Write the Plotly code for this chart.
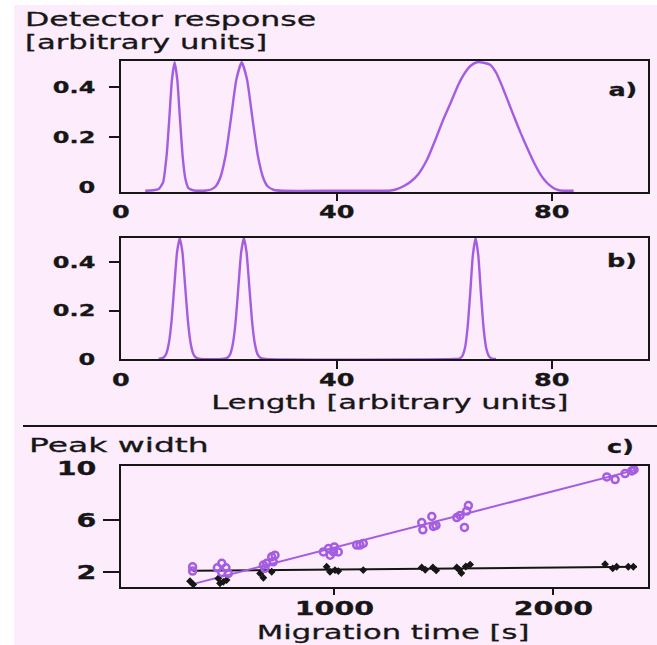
import plotly.graph_objects as go

W, H = 657, 645

# a) detector response along the column, broad peaks
a_length = [4.5, 6.0, 7.0, 7.8, 8.5, 9.0, 9.45, 9.95, 10.45, 10.9, 11.45, 11.95, 12.5, 13.2, 14.0,
            14.8, 15.8, 16.8, 17.6, 18.4, 19.4, 20.4, 21.4, 22.4, 23.4, 24.4, 25.4, 26.4, 27.2, 28.4,
            30.0, 40.0, 48.0, 49.7, 51.0, 52.5, 53.8, 55.2, 56.8, 58.3, 59.8, 61.4, 62.6, 63.8, 65.0,
            66.1, 67.3, 68.5, 69.7, 70.8, 71.8, 72.7, 74.2, 75.6, 76.7, 77.8, 79.0, 80.1, 81.1, 82.1, 84.0]
a_response = [-0.015, -0.013, -0.008, 0.018, 0.134, 0.287, 0.429, 0.5, 0.429, 0.287, 0.121, 0.033, -0.004, -0.012, -0.015,
              -0.015, -0.014, -0.009, 0.003, 0.036, 0.125, 0.274, 0.430, 0.5, 0.430, 0.274, 0.125, 0.036, 0.003, -0.012,
              -0.015, -0.015, -0.015, -0.015, -0.010, 0.004, 0.022, 0.052, 0.11, 0.187, 0.27, 0.349, 0.41, 0.457, 0.488,
              0.5, 0.498, 0.49, 0.455, 0.40, 0.345, 0.295, 0.215, 0.146, 0.095, 0.052, 0.018, -0.002, -0.012, -0.015, -0.015]

# b) detector response along the column, sharp peaks
b_length = [7.0, 7.9, 8.4, 8.9, 9.4, 9.9, 10.4, 10.9, 11.4, 11.9, 12.4, 12.9, 13.4, 13.9, 14.8,
            18.8, 19.8, 20.3, 20.8, 21.3, 21.8, 22.3, 22.8, 23.3, 23.8, 24.3, 24.8, 25.3, 25.8, 26.8,
            62.0, 62.8, 63.3, 63.8, 64.3, 64.8, 65.3, 65.8, 66.3, 66.8, 67.3, 67.8, 68.3, 68.8, 69.6]
b_response = [0.0, 0.006, 0.022, 0.068, 0.162, 0.303, 0.441, 0.5, 0.441, 0.303, 0.162, 0.068, 0.022, 0.006, 0.0,
              0.0, 0.006, 0.022, 0.068, 0.162, 0.303, 0.441, 0.5, 0.441, 0.303, 0.162, 0.068, 0.022, 0.006, 0.0,
              0.0, 0.002, 0.011, 0.042, 0.125, 0.27, 0.429, 0.5, 0.429, 0.27, 0.125, 0.042, 0.011, 0.002, 0.0]

# c) peak width against migration time
open_time = [353, 353, 466, 486, 486, 505, 516, 676, 683, 691, 714, 721, 729,
             950, 973, 981, 996, 1000, 1018, 1102, 1117, 1132,
             1399, 1404, 1445, 1452, 1464, 1559, 1574, 1594, 1604, 1612,
             2244, 2282, 2327, 2358, 2368]
open_width = [2.43, 2.10, 2.35, 2.69, 2.00, 2.35, 1.92, 2.56, 2.31, 2.69, 3.19, 2.81, 3.32,
              3.57, 3.83, 3.32, 3.57, 3.95, 3.57, 4.09, 4.09, 4.22,
              5.82, 5.26, 6.28, 5.52, 5.60, 6.20, 6.36, 5.44, 6.70, 7.12,
              9.31, 9.11, 9.57, 9.77, 9.87]
solid_time = [341, 356, 470, 478, 493, 508, 661, 676, 714, 965, 980, 1003, 1018, 1132,
              1399, 1415, 1450, 1465, 1559, 1570, 1580, 1600, 1620,
              2236, 2271, 2289, 2342, 2365]
solid_width = [1.33, 1.08, 1.54, 1.16, 1.28, 1.41, 1.92, 1.59, 2.05, 2.43, 2.05, 2.18, 2.10, 2.18,
               2.38, 2.20, 2.38, 2.15, 2.38, 2.20, 1.95, 2.45, 2.60,
               2.63, 2.31, 2.43, 2.43, 2.43]
fit_time = [353, 2381]
fit_open_width = [1.1, 9.87]
fit_solid_width = [2.12, 2.43]

# tick labels
length_ticks = [0, 40, 80]
length_labels = ["0", "40", "80"]
response_ticks = [0, 0.2, 0.4]
response_labels = ["0", "0.2", "0.4"]
time_ticks = [1000, 2000]
time_labels = ["1000", "2000"]
width_ticks = [2, 6, 10]
width_labels = ["2", "6", "10"]

PURPLE = "#a45de0"
INK = "#161616"
PINK = "#fcecfc"
FONT = "DejaVu Sans"


def px(x):
    return x / W


def py(y):
    return 1 - y / H


fig = go.Figure()

fig.add_trace(go.Scatter(x=a_length, y=a_response, mode="lines", xaxis="x", yaxis="y",
                         line=dict(color=PURPLE, width=2.4, shape="spline", smoothing=0.5),
                         showlegend=False, hoverinfo="skip"))
fig.add_trace(go.Scatter(x=b_length, y=b_response, mode="lines", xaxis="x2", yaxis="y2",
                         line=dict(color=PURPLE, width=2.4, shape="spline", smoothing=0.5),
                         showlegend=False, hoverinfo="skip"))
fig.add_trace(go.Scatter(x=fit_time, y=fit_solid_width, mode="lines", xaxis="x3", yaxis="y3",
                         line=dict(color=INK, width=2), showlegend=False, hoverinfo="skip"))
fig.add_trace(go.Scatter(x=fit_time, y=fit_open_width, mode="lines", xaxis="x3", yaxis="y3",
                         line=dict(color=PURPLE, width=2), showlegend=False, hoverinfo="skip"))
fig.add_trace(go.Scatter(x=solid_time, y=solid_width, mode="markers", xaxis="x3", yaxis="y3",
                         marker=dict(symbol="diamond", size=6, color=INK),
                         showlegend=False, hoverinfo="skip"))
fig.add_trace(go.Scatter(x=open_time, y=open_width, mode="markers", xaxis="x3", yaxis="y3",
                         marker=dict(symbol="circle-open", size=7, color=PURPLE, line=dict(width=2.5)),
                         showlegend=False, hoverinfo="skip"))

xdom = [px(121), px(648)]
box = dict(showline=True, mirror=True, linecolor=INK, linewidth=2, showgrid=False,
           zeroline=False, showticklabels=False, ticks="outside", tickcolor=INK, tickwidth=1.5)

fig.update_layout(
    width=W, height=H, margin=dict(l=0, r=0, t=0, b=0),
    paper_bgcolor="white", plot_bgcolor="rgba(0,0,0,0)",
    xaxis=dict(box, domain=xdom, range=[0, 97.8], tickvals=[40, 80], ticklen=7, anchor="y"),
    yaxis=dict(box, domain=[py(192), py(61)], range=[-0.02, 0.505], tickvals=[0.2, 0.4], ticklen=10, anchor="x"),
    xaxis2=dict(box, domain=xdom, range=[0, 97.8], tickvals=[40, 80], ticklen=8, anchor="y2"),
    yaxis2=dict(box, domain=[py(359), py(238)], range=[0, 0.5], tickvals=[0.2, 0.4], ticklen=10, anchor="x2"),
    xaxis3=dict(box, domain=xdom, range=[26, 2432], tickvals=[1000, 2000], ticklen=6, anchor="y3"),
    yaxis3=dict(box, domain=[py(587), py(466)], range=[0.88, 10.15], tickvals=[2, 6], ticklen=16, anchor="x3"),
)

# page background and the rule between the two figure parts
fig.add_shape(type="rect", xref="paper", yref="paper", x0=px(14), x1=1, y0=0, y1=py(5),
              fillcolor=PINK, line=dict(width=0), layer="below")
fig.add_shape(type="line", xref="paper", yref="paper", x0=px(23), x1=1, y0=py(426), y1=py(426),
              line=dict(color=INK, width=2))

# horizontal stretch of each text, by annotation index
stretch = []


def label(text, x, y, size, bold=False, xanchor="center", xref="paper", yref="paper", wide=1.5):
    fig.add_annotation(text=text, x=x, y=y, xref=xref, yref=yref, showarrow=False,
                       xanchor=xanchor, yanchor="middle",
                       align={"left": "left", "right": "right"}.get(xanchor, "center"),
                       font=dict(family=FONT, size=size, color=INK, weight="bold" if bold else "normal"))
    stretch.append(wide)


# titles
label("Detector response", px(23), py(19.5), 19.5, xanchor="left", wide=1.62)
label("[arbitrary units]", px(23), py(42.5), 19.5, xanchor="left", wide=1.57)
label("Length [arbitrary units]", px(390), py(402), 20, wide=1.53)
label("Peak width", px(27), py(445), 20, xanchor="left", wide=1.65)
label("Migration time [s]", px(393), py(632), 20, wide=1.53)

# panel letters
label("a)", px(639), py(90), 17, bold=True, xanchor="right")
label("b)", px(639), py(261), 17, bold=True, xanchor="right")
label("c)", px(636), py(447), 17, bold=True, xanchor="right")

# tick labels
for v, t in zip(response_ticks, response_labels):
    label(t, px(97), v, 16, bold=True, xanchor="right", yref="y")
    label(t, px(97), v, 16, bold=True, xanchor="right", yref="y2")
for v, t in zip(length_ticks, length_labels):
    label(t, v, py(212), 17, bold=True, xref="x")
    label(t, v, py(380), 17, bold=True, xref="x2")
for v, t in zip(time_ticks, time_labels):
    label(t, v, py(608), 19, bold=True, xref="x3")
for v, t in zip(width_ticks, width_labels):
    label(t, px(98), v, 19, bold=True, xanchor="right", yref="y3")

# the lettering of this figure is set wide and slightly heavy
css = [".annotation-text{transform-box:fill-box;transform-origin:center;transform:scaleX(1.5);"
       "stroke:#161616;stroke-width:0.3px;}",
       ".annotation-text[text-anchor='start']{transform-origin:left center;}",
       ".annotation-text[text-anchor='end']{transform-origin:right center;}"]
for i, s in enumerate(stretch):
    css.append("g.annotation[data-index='%d'] .annotation-text{transform:scaleX(%.3f);}" % (i, s))
post = ("var s=document.createElement('style');s.textContent=\"" + "".join(css)
        + "\";document.head.appendChild(s);")

fig.write_html("out.html", post_script=post, config={"displayModeBar": False})
